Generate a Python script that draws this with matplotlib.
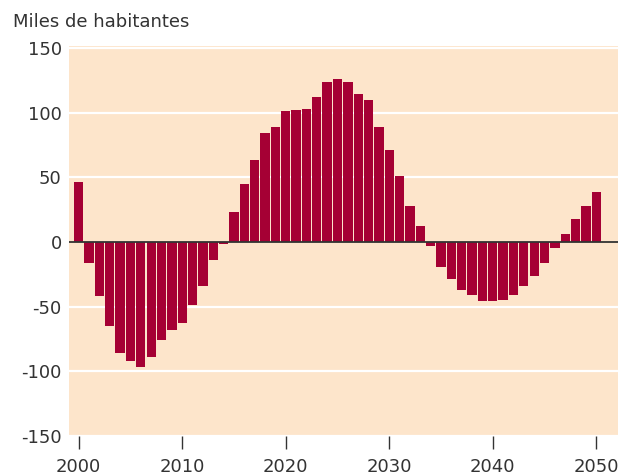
import matplotlib.pyplot as plt
import numpy as np

years = np.arange(2000, 2051)
values = [46, -16, -42, -65, -86, -92, -97, -89, -76, -68,
          -63, -49, -34, -14, -1.5, 23, 45, 63, 84, 89,
          101, 102, 103, 112, 124, 126, 124, 114, 110, 89,
          71, 51, 28, 12.5, -3, -19, -29, -37, -41, -46,
          -46, -45, -41, -34, -26, -16, -5, 6, 18, 28,
          39]
yticks = [-150, -100, -50, 0, 50, 100, 150]
xticks = [2000, 2010, 2020, 2030, 2040, 2050]

bar_color = '#a50034'
bg_color = '#fde5cb'
text_color = '#333333'

fig = plt.figure(figsize=(6.21, 4.75), dpi=100)
ax = fig.add_axes([0.1106, 0.0821, 0.8846, 0.8211])
ax.set_facecolor(bg_color)

for y in yticks:
    if y != 0:
        ax.axhline(y, color='white', lw=1.6, zorder=1)

ax.bar(years, values, width=0.9, color=bar_color, zorder=2)
ax.axhline(0, color=text_color, lw=1.3, zorder=3)

ax.set_xlim(1999.03, 2052.1)
ax.set_ylim(-150, 151.5)
ax.set_yticks(yticks)
ax.set_yticklabels([str(t) for t in yticks])
ax.set_xticks(xticks)

for s in ax.spines.values():
    s.set_visible(False)

ax.tick_params(axis='y', length=0, pad=5, labelsize=13, labelcolor=text_color)
ax.tick_params(axis='x', direction='out', length=9.5, width=1, color=text_color,
               pad=6, labelsize=13, labelcolor=text_color)

fig.text(13 / 621, 1 - 27.3 / 475, 'Miles de habitantes', fontsize=13,
         color=text_color, va='baseline', ha='left')

fig.savefig('out.png', dpi=100)
